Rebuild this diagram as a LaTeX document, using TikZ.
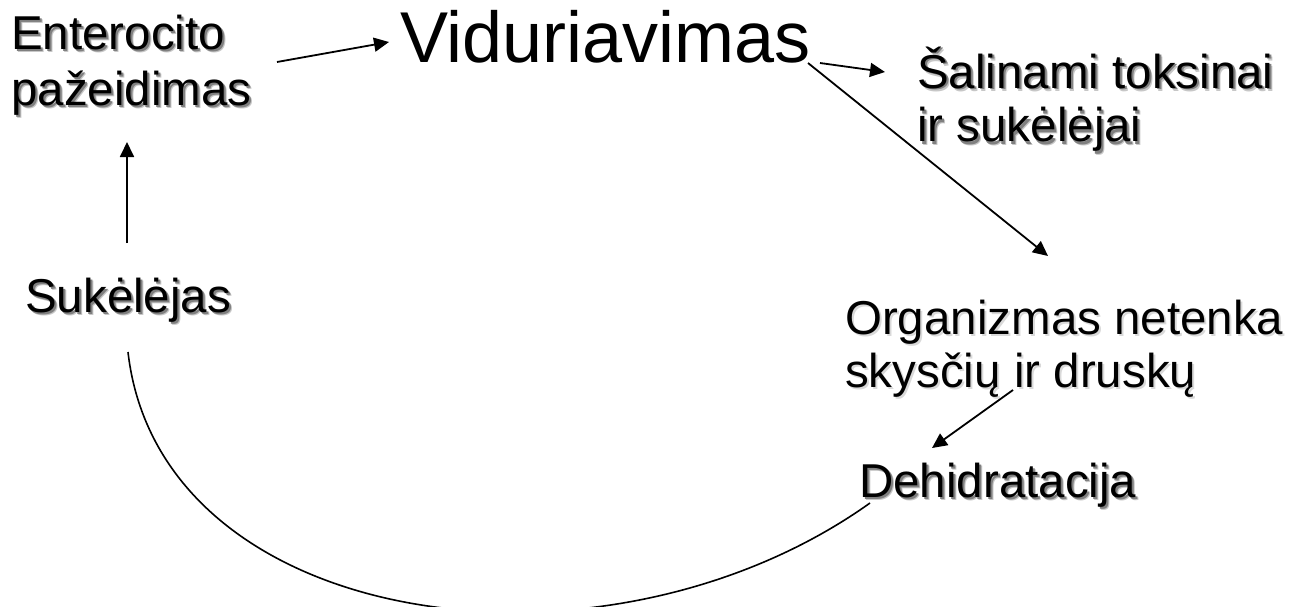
\documentclass[tikz,border=0pt]{standalone}
\usepackage{fontspec}
\setmainfont{Liberation Sans}
\usetikzlibrary{arrows.meta}
\newcommand\shd[1]{\leavevmode\rlap{\hspace{3pt}\raisebox{-3pt}{\color{black!22}#1}}\rlap{\hspace{2pt}\raisebox{-2pt}{\color{black!50}#1}}#1}
\newcommand\lsh[1]{\leavevmode\rlap{\hspace{2pt}\raisebox{-2pt}{\color{black!15}#1}}#1}
\begin{document}
\begin{tikzpicture}[x=1pt,y=-1pt,
  lbl/.style={inner sep=0pt, anchor=base west, align=left, font=\fontsize{47.5}{54}\selectfont},
  big/.style={inner sep=0pt, anchor=base west, font=\fontsize{72}{80}\selectfont},
  arr/.style={line width=1.8pt, -{Triangle[length=15pt,width=14pt]}},
  curve/.style={line width=1.6pt}]
\useasboundingbox (0,0) rectangle (1297,607);
\node[lbl, font=\fontsize{47.5}{56}\selectfont] (ent) at (11,106) {\shd{Enterocito}\\\shd{pažeidimas}};
\node[big] (vid) at (400,63) {Viduriavimas};
\node[lbl] (sal) at (917,142) {\shd{Šalinami toksinai}\\\shd{ir sukėlėjai}};
\node[lbl] (suk) at (25,312) {\shd{Sukėlėjas}};
\node[lbl, font=\fontsize{47.5}{53}\selectfont] (org) at (845,387) {\lsh{Organizmas netenka}\\\lsh{skysčių ir druskų}};
\node[lbl] (deh) at (859,497) {\shd{Dehidratacija}};
\coordinate (e1) at (277,62);
\coordinate (v1) at (389,42);
\coordinate (v2) at (820,63);
\coordinate (s1) at (885,72);
\coordinate (v3) at (808,63);
\coordinate (o1) at (1048,256);
\coordinate (o2) at (1013,390);
\coordinate (d1) at (932,448);
\coordinate (k1) at (127,243);
\coordinate (k2) at (127,142);
\coordinate (d2) at (870,503);
\coordinate (k3) at (128,352);
\draw[arr] (e1) -- (v1);
\draw[arr] (v2) -- (s1);
\draw[arr] (v3) -- (o1);
\draw[arr] (o2) -- (d1);
\draw[arr] (k1) -- (k2);
\draw[curve] (k3) .. controls (160,632) and (605,692) .. (d2);
\end{tikzpicture}
\end{document}
